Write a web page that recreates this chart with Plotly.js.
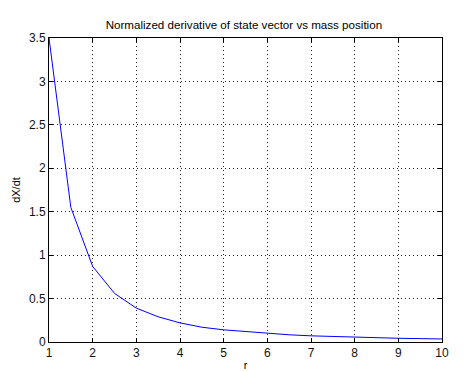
<!DOCTYPE html>
<html>
<head>
<meta charset="utf-8">
<script src="https://cdn.plot.ly/plotly-3.0.1.min.js"></script>
<style>html,body{margin:0;padding:0;background:#fff;}#chart{width:469px;height:371px;}</style>
</head>
<body>
<div id="chart"></div>
<script>
const r = [1, 1.5, 2, 2.5, 3, 3.5, 4, 4.5, 5, 5.5, 6, 6.5, 7, 7.5, 8, 8.5, 9, 9.5, 10];
const dXdt = [3.5, 1.55, 0.87, 0.56, 0.39, 0.29, 0.22, 0.17, 0.14, 0.12, 0.10, 0.083, 0.071, 0.062, 0.055, 0.048, 0.043, 0.039, 0.035];
const xTicks = [1, 2, 3, 4, 5, 6, 7, 8, 9, 10];
const yTicks = [0, 0.5, 1, 1.5, 2, 2.5, 3, 3.5];
const yTickText = ["0", "0.5", "1", "1.5", "2", "2.5", "3", "3.5"];

const font = {family: "Liberation Sans, Arial, sans-serif", size: 11, color: "#000"};
const tickFont = {family: "Liberation Sans, Arial, sans-serif", size: 12, color: "#111"};
const titleFont = {family: "Liberation Sans, Arial, sans-serif", size: 11.6, color: "#000"};
const axisCommon = {
  showline: true, linecolor: "#000", linewidth: 1, mirror: "ticks",
  ticks: "inside", ticklen: 4, tickcolor: "#000", tickwidth: 1,
  showgrid: true, gridcolor: "#222", gridwidth: 1, griddash: "1px,3px",
  zeroline: false, tickfont: tickFont
};
Plotly.newPlot("chart", [{
  x: r, y: dXdt, type: "scatter", mode: "lines",
  line: {color: "#0000ff", width: 1}
}], {
  width: 469, height: 371,
  margin: {l: 48.5, r: 27.3, t: 37.5, b: 29.3},
  paper_bgcolor: "#fff", plot_bgcolor: "#fff",
  font: font,
  showlegend: false,
  title: {text: "Normalized derivative of state vector vs mass position", font: titleFont, x: 0.52, xanchor: "center", y: 0.933, yanchor: "middle"},
  xaxis: Object.assign({}, axisCommon, {
    range: [1, 10], tickvals: xTicks, ticktext: xTicks.map(String),
    title: {text: "r", font: font, standoff: 1}
  }),
  yaxis: Object.assign({}, axisCommon, {
    range: [0, 3.5], tickvals: yTicks, ticktext: yTickText,
    title: {text: "dX/dt", font: font, standoff: 6}
  })
}, {displayModeBar: false, staticPlot: true});
</script>
</body>
</html>
